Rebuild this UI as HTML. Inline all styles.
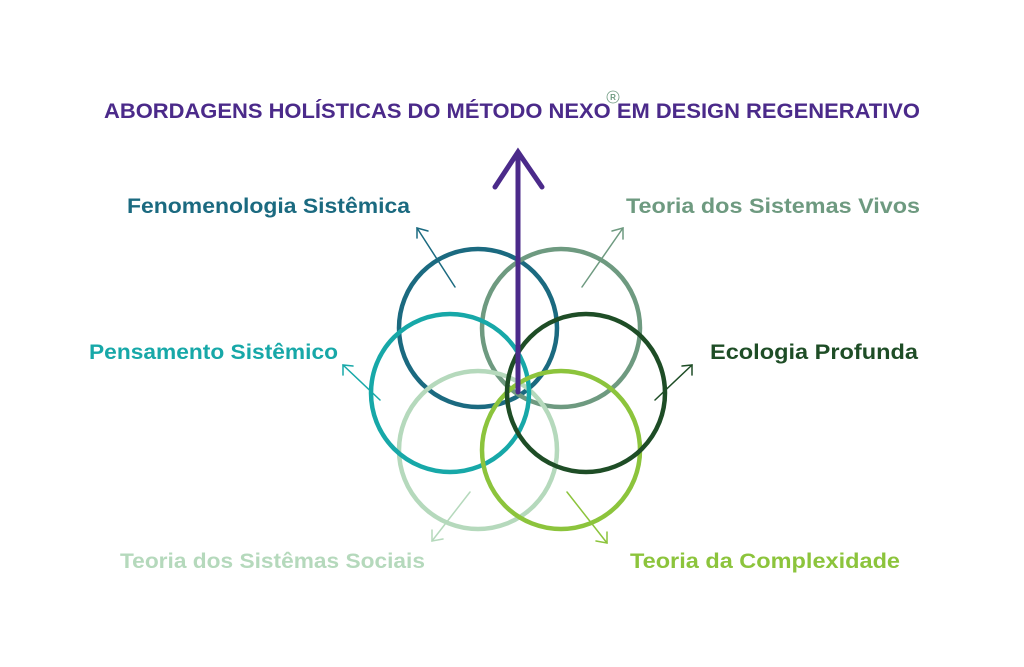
<!DOCTYPE html>
<html><head><meta charset="utf-8"><style>
html,body{margin:0;padding:0;background:#fff;width:1024px;height:667px;overflow:hidden}
text{font-family:"Liberation Sans",sans-serif;font-weight:bold}
</style></head><body>
<svg width="1024" height="667" viewBox="0 0 1024 667" xmlns="http://www.w3.org/2000/svg">
<text x="104" y="118" font-size="21" fill="#4b2a8a" textLength="816" lengthAdjust="spacingAndGlyphs">ABORDAGENS HOLÍSTICAS DO MÉTODO NEXO  EM DESIGN REGENERATIVO</text>
<circle cx="613" cy="97" r="6" fill="none" stroke="#6e9a80" stroke-width="0.8"/>
<text x="613" y="100" font-size="8" fill="#6e9a80" text-anchor="middle" font-weight="normal">R</text>
<g font-size="21">
<text x="127" y="213" fill="#1b6a80" textLength="283" lengthAdjust="spacingAndGlyphs">Fenomenologia Sistêmica</text>
<text x="626" y="213" fill="#6e9a80" textLength="294" lengthAdjust="spacingAndGlyphs">Teoria dos Sistemas Vivos</text>
<text x="89" y="359" fill="#17a8a8" textLength="249" lengthAdjust="spacingAndGlyphs">Pensamento Sistêmico</text>
<text x="710" y="359" fill="#1e4d26" textLength="208" lengthAdjust="spacingAndGlyphs">Ecologia Profunda</text>
<text x="120" y="568" fill="#b5d9bc" textLength="305" lengthAdjust="spacingAndGlyphs">Teoria dos Sistêmas Sociais</text>
<text x="630" y="568" fill="#8cc43c" textLength="270" lengthAdjust="spacingAndGlyphs">Teoria da Complexidade</text>
</g>
<g fill="none" stroke-width="4.5">
<circle cx="478" cy="328" r="79" stroke="#1b6a80"/>
<circle cx="561" cy="328" r="79" stroke="#6e9a80"/>
<circle cx="478" cy="450" r="79" stroke="#b5d9bc"/>
<circle cx="450" cy="393" r="79" stroke="#17a8a8"/>
<circle cx="561" cy="450" r="79" stroke="#8cc43c"/>
<circle cx="586" cy="393" r="79" stroke="#1e4d26"/>
</g>
<g fill="none" stroke-width="1.5" stroke-linecap="round">
<g stroke="#1b6a80"><line x1="455" y1="287" x2="417" y2="228"/><polyline points="417,238 417,228 428,231"/></g>
<g stroke="#6e9a80"><line x1="582" y1="287" x2="623" y2="228"/><polyline points="612,231 623,228 623,239"/></g>
<g stroke="#17a8a8"><line x1="380" y1="400" x2="343" y2="365"/><polyline points="343,375 343,365 353,366"/></g>
<g stroke="#1e4d26"><line x1="655" y1="400" x2="692" y2="365"/><polyline points="682,366 692,365 692,375"/></g>
<g stroke="#b5d9bc"><line x1="470" y1="492" x2="432" y2="541"/><polyline points="432,530 432,541 443,539"/></g>
<g stroke="#8cc43c"><line x1="567" y1="492" x2="607" y2="543"/><polyline points="596,541 607,543 607,532"/></g>
</g>
<g stroke="#4b2a8a" stroke-width="5" stroke-linecap="round" fill="none">
<line x1="518" y1="392" x2="518" y2="153"/>
<polyline points="495,187 518,152 542,187"/>
</g>
</svg>
</body></html>
